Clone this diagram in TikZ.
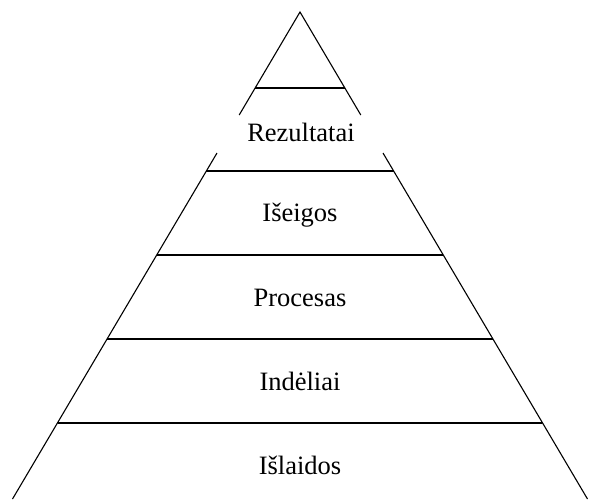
\documentclass[tikz,border=0pt]{standalone}
\usepackage{fontspec}
\setmainfont{Liberation Serif}
\begin{document}
\begin{tikzpicture}[x=1pt,y=-1pt,line width=1.1pt,
  lbl/.style={font=\fontsize{26.5}{30}\selectfont,inner sep=0pt,anchor=base}]
\useasboundingbox (0,0) rectangle (589,499);
\coordinate (apex) at (300,12);
\coordinate (ul) at (239.2,115);
\coordinate (ur) at (360.8,115);
\coordinate (ll) at (217,153);
\coordinate (lr) at (383,153);
\coordinate (bl) at (12.5,499);
\coordinate (br) at (587.5,499);
\draw (ul) -- (apex) -- (ur);
\draw (ll) -- (bl);
\draw (lr) -- (br);
\coordinate (a1) at (255.2,88); \coordinate (b1) at (344.8,88);
\coordinate (a2) at (206.3,171); \coordinate (b2) at (393.7,171);
\coordinate (a3) at (156.8,255); \coordinate (b3) at (443.2,255);
\coordinate (a4) at (107.3,339); \coordinate (b4) at (492.7,339);
\coordinate (a5) at (57.8,423); \coordinate (b5) at (542.2,423);
\draw (a1) -- (b1);
\draw (a2) -- (b2);
\draw (a3) -- (b3);
\draw (a4) -- (b4);
\draw (a5) -- (b5);
\node[lbl] (t1) at (301,141) {Rezultatai};
\node[lbl] (t2) at (300,221) {Išeigos};
\node[lbl] (t3) at (300,306) {Procesas};
\node[lbl] (t4) at (300,390) {Indėliai};
\node[lbl] (t5) at (300,474) {Išlaidos};
\end{tikzpicture}
\end{document}
